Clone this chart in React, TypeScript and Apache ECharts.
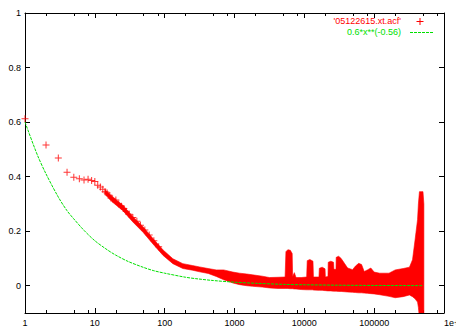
import React, { useEffect, useRef } from "react";
import * as echarts from "echarts";

// ---- data ----
const pointX = [1, 2, 3, 4, 5, 6, 7, 8, 9, 10, 11, 12, 13, 14, 15, 16, 17, 18, 20, 22, 24, 26, 28, 31, 35, 40, 45, 52, 60, 70, 82];
const pointY = [0.612, 0.516, 0.468, 0.416, 0.398, 0.392, 0.388, 0.39, 0.386, 0.382, 0.368, 0.362, 0.354, 0.345, 0.34, 0.332, 0.322, 0.318, 0.314, 0.3, 0.291, 0.283, 0.273, 0.262, 0.25, 0.236, 0.222, 0.204, 0.186, 0.165, 0.143];

const bandX = [14, 18, 25, 35, 49, 68, 95, 131, 182, 250, 316, 420, 548, 700, 949, 1180, 1500, 1808, 2500, 3162, 4200, 5300, 5450, 5800, 6300, 6700, 6800, 7200, 7600, 9000, 10800, 11000, 12000, 13300, 13500, 16200, 16400, 18000, 19800, 20000, 21800, 22000, 24000, 26200, 26500, 28400, 28600, 31000, 33700, 37300, 41700, 49000, 54000, 60000, 66000, 72000, 80000, 89500, 100000, 120000, 163000, 200000, 260000, 320000, 354000, 385000, 418000, 430000, 445000, 500000, 515000];
const bandLow = [0.335, 0.306, 0.276, 0.234, 0.196, 0.153, 0.111, 0.081, 0.063, 0.057, 0.051, 0.045, 0.034, 0.022, 0.01, 0.004, 0.0, -0.002, -0.005, -0.008, -0.01, -0.01, -0.01, -0.01, -0.011, -0.011, -0.011, -0.012, -0.012, -0.014, -0.015, -0.015, -0.015, -0.015, -0.016, -0.017, -0.017, -0.017, -0.018, -0.018, -0.019, -0.019, -0.019, -0.02, -0.02, -0.02, -0.02, -0.021, -0.021, -0.022, -0.023, -0.024, -0.025, -0.026, -0.026, -0.027, -0.028, -0.029, -0.03, -0.033, -0.039, -0.044, -0.04, -0.034, -0.04, -0.048, -0.06, -0.08, -0.12, -0.12, -0.12];
const bandHigh = [0.352, 0.325, 0.296, 0.254, 0.216, 0.173, 0.131, 0.099, 0.081, 0.074, 0.069, 0.063, 0.058, 0.058, 0.05, 0.046, 0.043, 0.04, 0.035, 0.03, 0.031, 0.032, 0.125, 0.132, 0.13, 0.118, 0.034, 0.048, 0.03, 0.03, 0.032, 0.092, 0.096, 0.09, 0.032, 0.032, 0.064, 0.068, 0.062, 0.032, 0.034, 0.086, 0.09, 0.086, 0.06, 0.06, 0.104, 0.108, 0.1, 0.083, 0.065, 0.059, 0.072, 0.082, 0.078, 0.052, 0.058, 0.065, 0.05, 0.046, 0.046, 0.058, 0.063, 0.068, 0.095, 0.168, 0.242, 0.3, 0.345, 0.345, 0.3];

const fitX = [1, 1.5, 2, 3, 4, 5, 7, 10, 15, 20, 30, 50, 70, 100, 200, 300, 500, 1000, 2000, 5000, 10000, 30000, 100000, 500000];
const fitY = [0.6, 0.48, 0.41, 0.325, 0.275, 0.245, 0.203, 0.165, 0.132, 0.112, 0.089, 0.067, 0.055, 0.046, 0.031, 0.025, 0.019, 0.013, 0.009, 0.005, 0.0035, 0.0019, 0.001, 0.0004];

const yTicks = [0, 0.2, 0.4, 0.6, 0.8, 1];
const minorMultipliers = [2, 5, 8];
const decades = [1, 10, 100, 1000, 10000, 100000];

const seriesName = "'05122615.xt.acf'";
const fitName = "0.6*x**(-0.56)";

const FONT = "'Liberation Sans', Arial, sans-serif";
const RED = "#ff0000";
const GREEN = "#00e000";
const PLUS = "path://M3,0H4V3H7V4H4V7H3V4H0V3H3Z";

export default function App() {
  const ref = useRef<HTMLDivElement>(null);
  useEffect(() => {
    if (!ref.current) return;
    const chart = echarts.init(ref.current, undefined, { renderer: "svg" });
    const minorLog: number[] = [];
    decades.forEach((d) => minorMultipliers.forEach((m) => minorLog.push(Math.log10(d * m))));

    const logLabel = (v: number) => {
      const r = Math.round(v);
      return r >= 1000000 ? "1e+06" : String(r);
    };
    const baseLine = { show: true, onZero: false, lineStyle: { color: "#000", width: 1 } };

    const bandData = bandX.map((x, i) => [x, bandLow[i], bandHigh[i]]);

    const option: any = {
      animation: false,
      backgroundColor: "#fff",
      grid: { left: 25, right: 12, top: 13, bottom: 16, containLabel: false, outerBoundsMode: "none" },
      xAxis: [
        {
          type: "log", logBase: 10, min: 1, max: 1000000, position: "bottom",
          axisLine: baseLine,
          axisTick: { show: true, inside: true, length: 5, lineStyle: { color: "#000" } },
          axisLabel: {
            show: true, margin: 5, fontSize: 9, color: "#000", fontFamily: FONT,
            formatter: logLabel, showMinLabel: true, showMaxLabel: true, alignMaxLabel: "left",
          },
          splitLine: { show: false }, minorTick: { show: false },
        },
        {
          type: "log", logBase: 10, min: 1, max: 1000000, position: "top",
          axisLine: baseLine,
          axisTick: { show: true, inside: true, length: 5, lineStyle: { color: "#000" } },
          axisLabel: { show: false }, splitLine: { show: false },
        },
        {
          type: "value", min: 0, max: 6, position: "bottom",
          axisLine: { show: false, onZero: false },
          axisTick: { show: true, inside: true, length: 3, customValues: minorLog, lineStyle: { color: "#000" } },
          axisLabel: { show: false }, splitLine: { show: false },
        },
        {
          type: "value", min: 0, max: 6, position: "top",
          axisLine: { show: false, onZero: false },
          axisTick: { show: true, inside: true, length: 3, customValues: minorLog, lineStyle: { color: "#000" } },
          axisLabel: { show: false }, splitLine: { show: false },
        },
      ],
      yAxis: [
        {
          type: "value", min: -0.1, max: 1, position: "left",
          axisLine: baseLine,
          axisTick: { show: true, inside: true, length: 5, customValues: yTicks, lineStyle: { color: "#000" } },
          axisLabel: {
            show: true, margin: 4, fontSize: 9, color: "#000", fontFamily: FONT, customValues: yTicks,
            formatter: (v: number) => String(Math.round(v * 10) / 10),
          },
          splitLine: { show: false },
        },
        {
          type: "value", min: -0.1, max: 1, position: "right",
          axisLine: baseLine,
          axisTick: { show: true, inside: true, length: 5, customValues: yTicks, lineStyle: { color: "#000" } },
          axisLabel: { show: false, customValues: yTicks }, splitLine: { show: false },
        },
      ],
      series: [
        {
          type: "custom", name: seriesName, xAxisIndex: 0, yAxisIndex: 0,
          data: bandData, clip: true, silent: true, z: 2,
          encode: { x: 0, y: [1, 2] },
          renderItem: (params: any, api: any) => {
            if (params.dataIndex !== 0) return null;
            const top = bandData.map((d) => api.coord([d[0], d[2]]));
            const bottom = bandData.map((d) => api.coord([d[0], d[1]])).reverse();
            return {
              type: "polygon",
              shape: { points: top.concat(bottom) },
              style: { fill: RED, stroke: RED, lineWidth: 0.6 },
            };
          },
        },
        {
          type: "scatter", name: seriesName + " pts", xAxisIndex: 0, yAxisIndex: 0,
          data: pointX.map((x, i) => [x, pointY[i]]),
          symbol: PLUS, symbolSize: 7, itemStyle: { color: RED }, silent: true, z: 3,
        },
        {
          type: "line", name: fitName, xAxisIndex: 0, yAxisIndex: 0,
          data: fitX.map((x, i) => [x, fitY[i]]),
          symbol: "none", smooth: 0.3,
          lineStyle: { color: GREEN, width: 1, type: [3, 1] }, silent: true, z: 4,
        },
      ],
      graphic: [
        {
          type: "text", x: 401, y: 21, z: 100,
          style: { text: seriesName, fill: RED, font: `9px ${FONT}`, align: "right", verticalAlign: "middle" },
        },
        { type: "line", z: 100, shape: { x1: 416.5, y1: 21.5, x2: 423.5, y2: 21.5 }, style: { stroke: RED, lineWidth: 1 } },
        { type: "line", z: 100, shape: { x1: 420, y1: 18, x2: 420, y2: 25 }, style: { stroke: RED, lineWidth: 1 } },
        {
          type: "text", x: 401, y: 32, z: 100,
          style: { text: fitName, fill: GREEN, font: `9px ${FONT}`, align: "right", verticalAlign: "middle" },
        },
        {
          type: "line", z: 100, shape: { x1: 410, y1: 32.5, x2: 433, y2: 32.5 },
          style: { stroke: GREEN, lineWidth: 1, lineDash: [3, 1] },
        },
      ],
    };
    chart.setOption(option);
    return () => chart.dispose();
  }, []);
  return (
    <div
      ref={ref}
      style={{ position: "fixed", left: 0, top: 0, width: 456, height: 329, background: "#fff" }}
    />
  );
}
